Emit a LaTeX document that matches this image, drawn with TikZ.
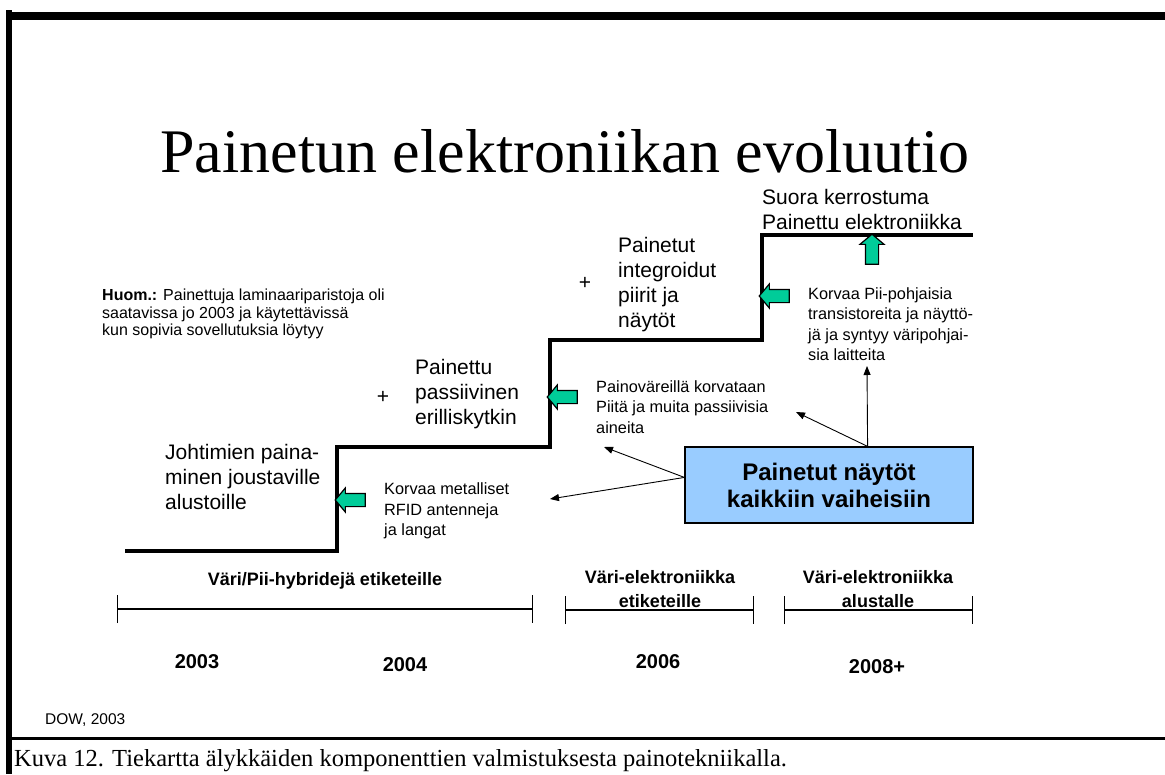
\documentclass[tikz,border=0pt]{standalone}
\usepackage{fontspec}
\setmainfont{Liberation Serif}
\newfontfamily\arial{Liberation Sans}
\usetikzlibrary{shapes.arrows,arrows.meta}
\definecolor{arrowgreen}{RGB}{0,204,153}
\definecolor{boxblue}{RGB}{153,204,255}
\tikzset{
  stair/.style={line width=3.5pt, line join=miter},
  bigtext/.style={font=\arial\fontsize{21}{25}\selectfont, align=left, inner sep=0pt, anchor=west},
  smalltext/.style={font=\arial\fontsize{16.3}{20.5}\selectfont, align=left, inner sep=0pt, anchor=west},
  notetext/.style={font=\arial\fontsize{16}{17.5}\selectfont, align=left, inner sep=0pt, anchor=west},
  phasetext/.style={font=\arial\bfseries\fontsize{18}{24}\selectfont, align=center, inner sep=0pt},
  yeartext/.style={font=\arial\bfseries\fontsize{20}{24}\selectfont, inner sep=0pt},
  plustext/.style={font=\arial\fontsize{21}{25}\selectfont, inner sep=0pt},
  greenarrow/.style={single arrow, draw=black, line width=1.2pt, fill=arrowgreen,
    minimum height=30pt, minimum width=23pt, inner sep=6pt,
    single arrow head extend=5.5pt, single arrow tip angle=100},
  pointer/.style={line width=0.9pt, -{Triangle[length=9pt,width=7pt]}},
  span/.style={line width=1.2pt, {Bar[width=28pt]}-{Bar[width=28pt]}},
}
\begin{document}
\begin{tikzpicture}[x=1pt,y=-1pt]
\useasboundingbox (0,0) rectangle (1165,774);

% page frame
\fill (6,12) rectangle (1165,20);
\fill (6,10) rectangle (12,774);
\fill (6,737) rectangle (1165,739.5);

% heading
\node[font=\fontsize{62}{70}\selectfont, anchor=base, inner sep=0pt] (title) at (565,172)
  {Painetun elektroniikan evoluutio};

% staircase
\draw[stair] (125,551) -- (337,551) -- (337,447) -- (550,447) -- (550,340)
  -- (762,340) -- (762,235) -- (973,235);

% step labels
\node[bigtext] (s1) at (165,477) {Johtimien paina-\\minen joustaville\\alustoille};
\node[plustext] (p1) at (383,397) {+};
\node[bigtext] (s2) at (415,394) {Painettu\\passiivinen\\erilliskytkin};
\node[plustext] (p2) at (585,283) {+};
\node[bigtext] (s3) at (618,285) {Painetut\\integroidut\\piirit ja\\näytöt};
\node[bigtext] (s4) at (762,209) {Suora kerrostuma\\Painettu elektroniikka};

% note
\node[notetext] (note) at (102,314)
  {\textbf{Huom.:} Painettuja laminaariparistoja oli\\saatavissa jo 2003 ja käytettävissä\\kun sopivia sovellutuksia löytyy};

% explanations
\node[smalltext] (e1) at (384,511) {Korvaa metalliset\\RFID antenneja\\ja langat};
\node[smalltext] (e2) at (596,407) {Painoväreillä korvataan\\Piitä ja muita passiivisia\\aineita};
\node[smalltext] (e3) at (808,324) {Korvaa Pii-pohjaisia\\transistoreita ja näyttö-\\jä ja syntyy väripohjai-\\sia laitteita};

% green block arrows
\node[greenarrow, shape border rotate=180] (g1) at (353,500) {};
\node[greenarrow, shape border rotate=180] (g2) at (565,397) {};
\node[greenarrow, shape border rotate=180] (g3) at (777,296) {};
\node[greenarrow, shape border rotate=90] (g4) at (872,252) {};

% displays box and its pointers
\node[draw=black, line width=1.2pt, fill=boxblue, minimum width=288pt, minimum height=76pt,
  font=\arial\bfseries\fontsize{24}{27}\selectfont, align=center, inner sep=0pt] (disp) at (829,485)
  {Painetut näytöt\\kaikkiin vaiheisiin};
\coordinate (t1) at (550,499);
\coordinate (t2) at (604,447);
\coordinate (t3) at (796,412);
\coordinate (t4) at (867,366);
\draw[pointer] (disp.177) -- (t1);
\draw[pointer] (disp.177) -- (t2);
\draw[pointer] (disp.45) -- (t3);
\draw[pointer] (disp.45) -- (t4);

% timeline
\coordinate (a1) at (117,609);
\coordinate (b1) at (533,609);
\coordinate (a2) at (565,610);
\coordinate (b2) at (754,610);
\coordinate (a3) at (784,610);
\coordinate (b3) at (973,610);
\draw[span] (a1) -- (b1);
\draw[span] (a2) -- (b2);
\draw[span] (a3) -- (b3);
\node[phasetext] (ph1) at (325,581) {Väri/Pii-hybridejä etiketeille};
\node[phasetext] (ph2) at (660,589) {Väri-elektroniikka\\etiketeille};
\node[phasetext] (ph3) at (878,589) {Väri-elektroniikka\\alustalle};

% years
\node[yeartext] (y1) at (197,662) {2003};
\node[yeartext] (y2) at (405,665) {2004};
\node[yeartext] (y3) at (658,662) {2006};
\node[yeartext] (y4) at (877,667) {2008+};

% source and caption
\node[font=\arial\fontsize{15.5}{18}\selectfont, anchor=west, inner sep=0pt] (src) at (45,720) {DOW, 2003};
\node[font=\fontsize{24.5}{28}\selectfont, anchor=base west, inner sep=0pt] (cap) at (14,766)
  {Kuva 12. Tiekartta älykkäiden komponenttien valmistuksesta painotekniikalla.};
\end{tikzpicture}
\end{document}
